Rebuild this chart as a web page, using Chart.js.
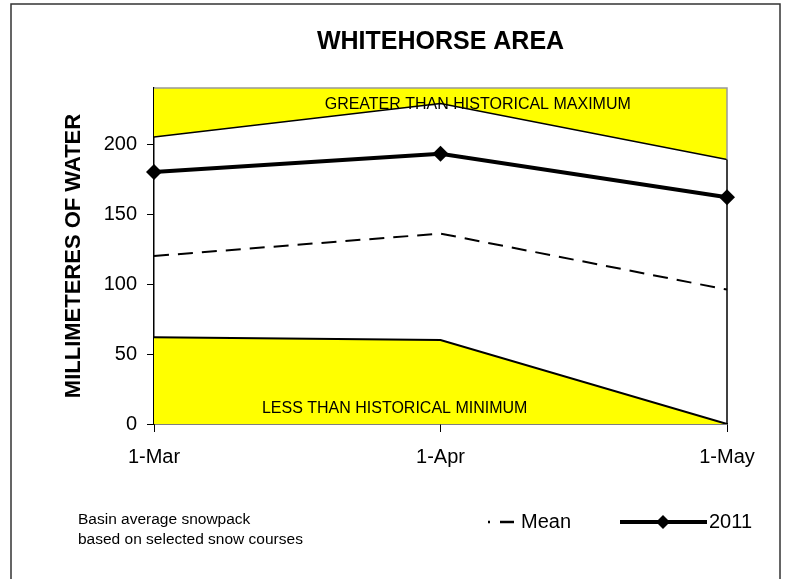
<!DOCTYPE html>
<html>
<head>
<meta charset="utf-8">
<script src="https://cdn.jsdelivr.net/npm/chart.js@4.4.1/dist/chart.umd.min.js"></script>
<style>
  html, body { margin: 0; padding: 0; background: #fff; }
  #wrap { position: relative; width: 787px; height: 579px; }
</style>
</head>
<body>
<div id="wrap"><canvas id="snowChart"></canvas></div>
<script>
const dates = ['1-Mar', '1-Apr', '1-May'];
const historicalMax = [205, 229, 189];
const historicalMin = [62, 60, 0];
const meanSnow = [120, 136, 96];
const snow2011 = [180, 193, 162];
const yTicks = [0, 50, 100, 150, 200];

const FONT = '"Liberation Sans", Arial, sans-serif';
const YELLOW = '#ffff00';

// frame, plot border and the text notes Excel put inside the chart
const decorations = {
  id: 'decorations',
  beforeDraw(chart) {
    const ctx = chart.ctx;
    ctx.save();
    ctx.fillStyle = '#fff';
    ctx.fillRect(0, 0, chart.width, chart.height);
    ctx.strokeStyle = '#333';
    ctx.lineWidth = 1.5;
    ctx.strokeRect(11, 4, 769, 620);
    ctx.restore();
  },
  afterDatasetsDraw(chart) {
    const { ctx, chartArea, scales } = chart;
    const x = scales.x, y = scales.y;
    ctx.save();
    ctx.strokeStyle = '#999';
    ctx.lineWidth = 1.5;
    ctx.beginPath();
    ctx.moveTo(chartArea.left, chartArea.top);
    ctx.lineTo(chartArea.right, chartArea.top);
    ctx.lineTo(chartArea.right, y.getPixelForValue(historicalMax[2]));
    ctx.stroke();
    ctx.strokeStyle = '#000';
    ctx.beginPath();
    ctx.moveTo(chartArea.right, y.getPixelForValue(historicalMax[2]));
    ctx.lineTo(chartArea.right, chartArea.bottom);
    ctx.stroke();

    ctx.fillStyle = '#000';
    ctx.font = '16px ' + FONT;
    ctx.textAlign = 'center';
    ctx.textBaseline = 'middle';
    ctx.fillText('GREATER THAN HISTORICAL MAXIMUM', x.getPixelForValue(1.13), y.getPixelForValue(228));
    ctx.fillText('LESS THAN HISTORICAL MINIMUM', x.getPixelForValue(0.84), y.getPixelForValue(11));
    ctx.restore();
  },
  afterDraw(chart) {
    const ctx = chart.ctx;
    ctx.save();
    ctx.fillStyle = '#000';
    ctx.textBaseline = 'alphabetic';
    ctx.textAlign = 'left';
    ctx.font = '15.5px ' + FONT;
    ctx.fillText('Basin average snowpack', 78, 524);
    ctx.fillText('based on selected snow courses', 78, 544);

    // legend
    ctx.strokeStyle = '#000';
    ctx.lineWidth = 2.5;
    ctx.setLineDash([2, 10, 14]);
    ctx.beginPath();
    ctx.moveTo(488, 522);
    ctx.lineTo(514, 522);
    ctx.stroke();
    ctx.setLineDash([]);
    ctx.lineWidth = 4;
    ctx.beginPath();
    ctx.moveTo(620, 522);
    ctx.lineTo(707, 522);
    ctx.stroke();
    ctx.beginPath();
    ctx.moveTo(663, 515);
    ctx.lineTo(670, 522);
    ctx.lineTo(663, 529);
    ctx.lineTo(656, 522);
    ctx.closePath();
    ctx.fill();
    ctx.font = '20px ' + FONT;
    ctx.textBaseline = 'middle';
    ctx.fillText('Mean', 521, 522);
    ctx.fillText('2011', 709, 522);
    ctx.restore();
  }
};

new Chart(document.querySelector('#snowChart'), {
  type: 'line',
  data: {
    labels: dates,
    datasets: [
      {
        label: 'Historical maximum',
        data: historicalMax,
        borderColor: '#000',
        borderWidth: 1.5,
        backgroundColor: YELLOW,
        fill: 'end',
        pointRadius: 0
      },
      {
        label: 'Historical minimum',
        data: historicalMin,
        borderColor: '#000',
        borderWidth: 2,
        backgroundColor: YELLOW,
        fill: 'origin',
        pointRadius: 0
      },
      {
        label: 'Mean',
        data: meanSnow,
        borderColor: '#000',
        borderWidth: 2,
        borderDash: [15, 9],
        fill: false,
        pointRadius: 0
      },
      {
        label: '2011',
        data: snow2011,
        borderColor: '#000',
        borderWidth: 4,
        fill: false,
        pointStyle: 'rectRot',
        pointRadius: 8,
        pointBackgroundColor: '#000',
        pointBorderColor: '#000',
        pointBorderWidth: 0,
        clip: false
      }
    ]
  },
  options: {
    responsive: true,
    maintainAspectRatio: false,
    animation: false,
    layout: { padding: { left: 10, right: 60, top: 0, bottom: 105 } },
    plugins: {
      legend: { display: false },
      tooltip: { enabled: false },
      title: {
        display: true,
        text: 'WHITEHORSE AREA',
        fullSize: false,
        color: '#000',
        font: { family: FONT, size: 25, weight: 'bold' },
        padding: { top: 27, bottom: 31 }
      }
    },
    scales: {
      x: {
        offset: false,
        grid: { display: true, drawOnChartArea: false, tickLength: 8, color: '#000', lineWidth: 1 },
        border: { color: '#000', width: 1.5 },
        ticks: { color: '#000', padding: 13, maxRotation: 0, font: { family: FONT, size: 20 } },
        afterFit(scale) { scale.height = 50; }
      },
      y: {
        min: 0,
        max: 240,
        afterBuildTicks(scale) { scale.ticks = yTicks.map((v) => ({ value: v })); },
        grid: { display: true, drawOnChartArea: false, tickLength: 7, color: '#000', lineWidth: 1 },
        border: { color: '#000', width: 1.5 },
        ticks: { color: '#000', padding: 10, font: { family: FONT, size: 20 } },
        title: {
          display: true,
          text: 'MILLIMETERES OF WATER',
          color: '#000',
          font: { family: FONT, size: 22, weight: 'bold' },
          padding: { top: 51, bottom: 0 }
        },
        afterFit(scale) { scale.width = 144; }
      }
    }
  },
  plugins: [decorations]
});
</script>
</body>
</html>
